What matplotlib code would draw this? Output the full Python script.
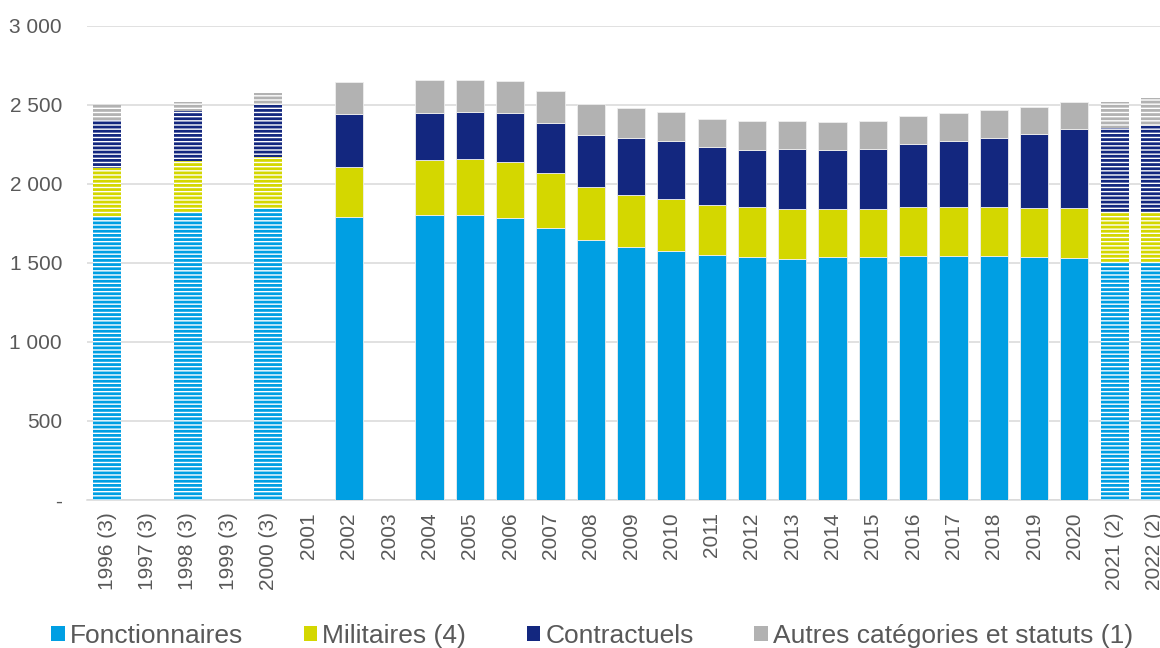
from matplotlib import pyplot as plt
import numpy as np

plt.rcParams['font.family'] = ['Liberation Sans', 'DejaVu Sans']
plt.rcParams['hatch.linewidth'] = 2.0

years = ['1996 (3)', '1997 (3)', '1998 (3)', '1999 (3)', '2000 (3)', '2001', '2002', '2003',
         '2004', '2005', '2006', '2007', '2008', '2009', '2010', '2011', '2012', '2013',
         '2014', '2015', '2016', '2017', '2018', '2019', '2020', '2021 (2)', '2022 (2)']
nan = np.nan
fonctionnaires = [1790, nan, 1815, nan, 1845, nan, 1790, nan, 1805, 1805, 1785, 1722, 1645, 1601,
                  1576, 1551, 1538, 1525, 1538, 1538, 1544, 1544, 1544, 1538, 1532, 1506, 1506]
militaires = [310, nan, 330, nan, 325, nan, 318, nan, 347, 353, 354, 348, 336, 329,
              329, 316, 316, 317, 304, 304, 310, 310, 310, 310, 316, 310, 310]
contractuels = [305, nan, 315, nan, 330, nan, 335, nan, 297, 298, 310, 316, 329, 361,
                367, 367, 361, 380, 373, 380, 399, 418, 437, 468, 500, 538, 551]
autres = [95, nan, 60, nan, 75, nan, 203, nan, 209, 202, 203, 203, 196, 190,
          184, 177, 184, 177, 177, 177, 177, 177, 177, 171, 171, 165, 177]
# estimated years (hatched bars)
estimated = ['1996 (3)', '1998 (3)', '2000 (3)', '2021 (2)', '2022 (2)']

series = [('Fonctionnaires', fonctionnaires, '#009FE3'),
          ('Militaires (4)', militaires, '#D4D700'),
          ('Contractuels', contractuels, '#13277F'),
          ('Autres catégories et statuts (1)', autres, '#B2B2B2')]

fig = plt.figure(figsize=(11.6, 6.48), dpi=100)
ax = fig.add_axes([0.075, 0.2284, 0.938, 0.7315])

x = np.arange(len(years))
hatched = np.array([y in estimated for y in years])
bottom = np.zeros(len(years))
for name, vals, col in series:
    v = np.nan_to_num(np.array(vals, dtype=float))
    solid = ~hatched
    ax.bar(x[solid], v[solid], bottom=bottom[solid], width=0.7, color=col,
           edgecolor='#EEEEEE', linewidth=0.6, label=name, zorder=3)
    ax.bar(x[hatched], v[hatched], bottom=bottom[hatched], width=0.7, facecolor='white',
           edgecolor=col, hatch='----', linewidth=0, zorder=3)
    bottom = bottom + v

ax.set_xlim(-0.5, len(years) - 0.5)
ax.set_ylim(0, 3000)
ax.set_yticks(np.arange(0, 3001, 500))
ax.set_yticklabels(['-' if t == 0 else f'{t:,}'.replace(',', ' ') for t in range(0, 3001, 500)])
ax.set_xticks(x)
ax.set_xticklabels(years, rotation=90)
ax.tick_params(axis='both', length=0, labelsize=15, colors='#595959')
ax.tick_params(axis='y', pad=18)
ax.tick_params(axis='x', pad=9)
ax.grid(axis='y', color='#D9D9D9', linewidth=1.1, zorder=0)
for s in ['top', 'right', 'left']:
    ax.spines[s].set_visible(False)
ax.spines['bottom'].set_color('#D9D9D9')
ax.spines['bottom'].set_linewidth(1.1)

handles, labels = ax.get_legend_handles_labels()
leg = fig.legend(handles, labels, loc='center left', bbox_to_anchor=(0.033, 0.018), ncol=4,
                 frameon=False, fontsize=19, borderpad=0, handlelength=0.5, handleheight=0.5,
                 handletextpad=0.2, columnspacing=2.3, labelcolor='#595959')
for h in leg.legend_handles:
    h.set_edgecolor('none')

fig.savefig('out.png', dpi=100)
plt.close()
